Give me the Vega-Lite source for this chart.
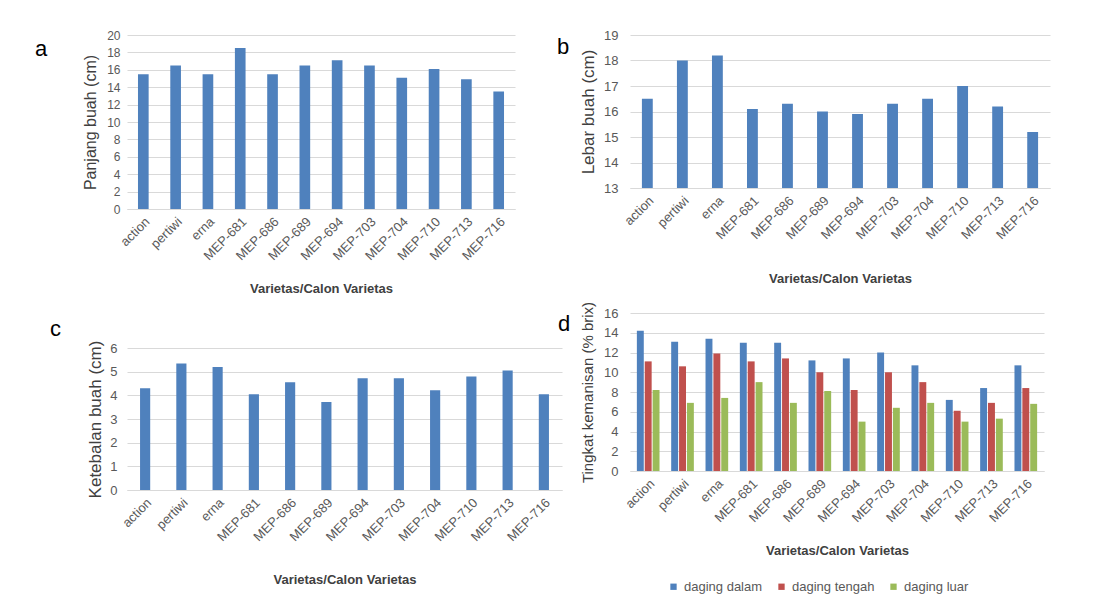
{
  "$schema": "https://vega.github.io/schema/vega-lite/v6.json",
  "padding": {"left": 35, "top": 29, "right": 5, "bottom": 5},
  "background": "white",
  "config": {
    "font": "Liberation Sans",
    "view": {"stroke": null},
    "axis": {"labelColor": "#595959", "titleColor": "#404040", "labelFont": "Liberation Sans", "titleFont": "Liberation Sans"},
    "axisY": {"domain": false, "ticks": false, "gridColor": "#d9d9d9", "gridWidth": 1, "labelFontSize": 12, "labelPadding": 10, "titleFontWeight": "normal", "titlePadding": 8},
    "axisX": {"domainColor": "#d9d9d9", "domainWidth": 1, "ticks": false, "grid": false, "labelAngle": -45, "labelFontSize": 13, "labelPadding": 6, "titleFontSize": 13, "titleFontWeight": "bold"},
    "title": {"font": "Liberation Sans", "fontSize": 22, "fontWeight": "normal", "color": "#000000", "anchor": "start", "frame": "group", "baseline": "alphabetic", "offset": 0},
    "legend": {"labelColor": "#595959", "labelFont": "Liberation Sans", "labelFontSize": 13}
  },
  "datasets": {
    "single": [
      {"varietas": "action", "panjang": 15.5, "lebar": 16.5, "tebal": 4.3},
      {"varietas": "pertiwi", "panjang": 16.5, "lebar": 18.0, "tebal": 5.35},
      {"varietas": "erna", "panjang": 15.5, "lebar": 18.2, "tebal": 5.2},
      {"varietas": "MEP-681", "panjang": 18.5, "lebar": 16.1, "tebal": 4.05},
      {"varietas": "MEP-686", "panjang": 15.5, "lebar": 16.3, "tebal": 4.55},
      {"varietas": "MEP-689", "panjang": 16.5, "lebar": 16.0, "tebal": 3.72},
      {"varietas": "MEP-694", "panjang": 17.1, "lebar": 15.9, "tebal": 4.72},
      {"varietas": "MEP-703", "panjang": 16.5, "lebar": 16.3, "tebal": 4.72},
      {"varietas": "MEP-704", "panjang": 15.1, "lebar": 16.5, "tebal": 4.22},
      {"varietas": "MEP-710", "panjang": 16.1, "lebar": 17.0, "tebal": 4.8},
      {"varietas": "MEP-713", "panjang": 14.9, "lebar": 16.2, "tebal": 5.05},
      {"varietas": "MEP-716", "panjang": 13.5, "lebar": 15.2, "tebal": 4.05}
    ],
    "manis": [
      {"varietas": "action", "bagian": "daging dalam", "brix": 14.2},
      {"varietas": "action", "bagian": "daging tengah", "brix": 11.1},
      {"varietas": "action", "bagian": "daging luar", "brix": 8.2},
      {"varietas": "pertiwi", "bagian": "daging dalam", "brix": 13.1},
      {"varietas": "pertiwi", "bagian": "daging tengah", "brix": 10.6},
      {"varietas": "pertiwi", "bagian": "daging luar", "brix": 6.9},
      {"varietas": "erna", "bagian": "daging dalam", "brix": 13.4},
      {"varietas": "erna", "bagian": "daging tengah", "brix": 11.9},
      {"varietas": "erna", "bagian": "daging luar", "brix": 7.4},
      {"varietas": "MEP-681", "bagian": "daging dalam", "brix": 13.0},
      {"varietas": "MEP-681", "bagian": "daging tengah", "brix": 11.1},
      {"varietas": "MEP-681", "bagian": "daging luar", "brix": 9.0},
      {"varietas": "MEP-686", "bagian": "daging dalam", "brix": 13.0},
      {"varietas": "MEP-686", "bagian": "daging tengah", "brix": 11.4},
      {"varietas": "MEP-686", "bagian": "daging luar", "brix": 6.9},
      {"varietas": "MEP-689", "bagian": "daging dalam", "brix": 11.2},
      {"varietas": "MEP-689", "bagian": "daging tengah", "brix": 10.0},
      {"varietas": "MEP-689", "bagian": "daging luar", "brix": 8.1},
      {"varietas": "MEP-694", "bagian": "daging dalam", "brix": 11.4},
      {"varietas": "MEP-694", "bagian": "daging tengah", "brix": 8.2},
      {"varietas": "MEP-694", "bagian": "daging luar", "brix": 5.0},
      {"varietas": "MEP-703", "bagian": "daging dalam", "brix": 12.0},
      {"varietas": "MEP-703", "bagian": "daging tengah", "brix": 10.0},
      {"varietas": "MEP-703", "bagian": "daging luar", "brix": 6.4},
      {"varietas": "MEP-704", "bagian": "daging dalam", "brix": 10.7},
      {"varietas": "MEP-704", "bagian": "daging tengah", "brix": 9.0},
      {"varietas": "MEP-704", "bagian": "daging luar", "brix": 6.9},
      {"varietas": "MEP-710", "bagian": "daging dalam", "brix": 7.2},
      {"varietas": "MEP-710", "bagian": "daging tengah", "brix": 6.1},
      {"varietas": "MEP-710", "bagian": "daging luar", "brix": 5.0},
      {"varietas": "MEP-713", "bagian": "daging dalam", "brix": 8.4},
      {"varietas": "MEP-713", "bagian": "daging tengah", "brix": 6.9},
      {"varietas": "MEP-713", "bagian": "daging luar", "brix": 5.3},
      {"varietas": "MEP-716", "bagian": "daging dalam", "brix": 10.7},
      {"varietas": "MEP-716", "bagian": "daging tengah", "brix": 8.4},
      {"varietas": "MEP-716", "bagian": "daging luar", "brix": 6.8}
    ]
  },
  "spacing": -5,
  "resolve": {"scale": {"color": "independent"}, "legend": {"color": "independent"}},
  "hconcat": [
    {
      "bounds": "flush",
      "spacing": 139,
      "vconcat": [
        {
          "title": {"text": "a", "dx": -92, "dy": 36},
          "data": {"name": "single"},
          "width": 388,
          "height": 174,
          "mark": {"type": "bar", "color": "#4F81BD"},
          "encoding": {
            "x": {"field": "varietas", "type": "nominal", "sort": null, "title": "Varietas/Calon Varietas", "scale": {"paddingInner": 0.67, "paddingOuter": 0.34}, "axis": {"titlePadding": 20}},
            "y": {"field": "panjang", "type": "quantitative", "title": "Panjang buah (cm)", "scale": {"domain": [0, 20]}, "axis": {"values": [0, 2, 4, 6, 8, 10, 12, 14, 16, 18, 20], "titleFontSize": 16, "labelPadding": 7}}
          }
        },
        {
          "title": {"text": "c", "dx": -77, "dy": 5},
          "data": {"name": "single"},
          "width": 435,
          "height": 142,
          "mark": {"type": "bar", "color": "#4F81BD"},
          "encoding": {
            "x": {"field": "varietas", "type": "nominal", "sort": null, "title": "Varietas/Calon Varietas", "scale": {"paddingInner": 0.72, "paddingOuter": 0.36}, "axis": {"titlePadding": 30}},
            "y": {"field": "tebal", "type": "quantitative", "title": "Ketebalan buah (cm)", "scale": {"domain": [0, 6]}, "axis": {"values": [0, 1, 2, 3, 4, 5, 6], "titleFontSize": 17, "labelFontSize": 13, "titlePadding": 5}}
          }
        }
      ]
    },
    {
      "bounds": "flush",
      "spacing": 125,
      "resolve": {"scale": {"color": "independent"}, "legend": {"color": "independent"}},
      "vconcat": [
        {
          "title": {"text": "b", "dx": -73, "dy": 34},
          "data": {"name": "single"},
          "width": 420,
          "height": 153,
          "mark": {"type": "bar", "color": "#4F81BD", "clip": true},
          "encoding": {
            "x": {"field": "varietas", "type": "nominal", "sort": null, "title": "Varietas/Calon Varietas", "scale": {"paddingInner": 0.69, "paddingOuter": 0.34}, "axis": {"titlePadding": 31}},
            "y": {"field": "lebar", "type": "quantitative", "title": "Lebar buah (cm)", "scale": {"domain": [13, 19], "zero": false}, "axis": {"values": [13, 14, 15, 16, 17, 18, 19], "titleFontSize": 17, "labelFontSize": 13, "labelPadding": 12, "titlePadding": 6}}
          }
        },
        {
          "title": {"text": "d", "dx": -72, "dy": 39},
          "data": {"name": "manis"},
          "width": 414,
          "height": 158,
          "mark": {"type": "bar"},
          "encoding": {
            "x": {"field": "varietas", "type": "nominal", "sort": null, "title": "Varietas/Calon Varietas", "scale": {"paddingInner": 0.34, "paddingOuter": 0.2}, "axis": {"titlePadding": 20}},
            "xOffset": {"field": "bagian", "type": "nominal", "sort": ["daging dalam", "daging tengah", "daging luar"], "scale": {"paddingInner": 0.12}},
            "y": {"field": "brix", "type": "quantitative", "title": "Tingkat kemanisan (% brix)", "scale": {"domain": [0, 16]}, "axis": {"values": [0, 2, 4, 6, 8, 10, 12, 14, 16], "titleFontSize": 15, "labelFontSize": 13, "labelPadding": 12}},
            "color": {"field": "bagian", "type": "nominal", "sort": ["daging dalam", "daging tengah", "daging luar"], "scale": {"domain": ["daging dalam", "daging tengah", "daging luar"], "range": ["#4F81BD", "#C0504D", "#9BBB59"]}, "legend": {"title": null, "orient": "none", "legendX": 37, "legendY": 267, "padding": 0, "direction": "horizontal", "symbolType": "square", "symbolSize": 40, "symbolOffset": 0, "labelOffset": 4, "columnPadding": 12}}
          }
        }
      ]
    }
  ]
}
